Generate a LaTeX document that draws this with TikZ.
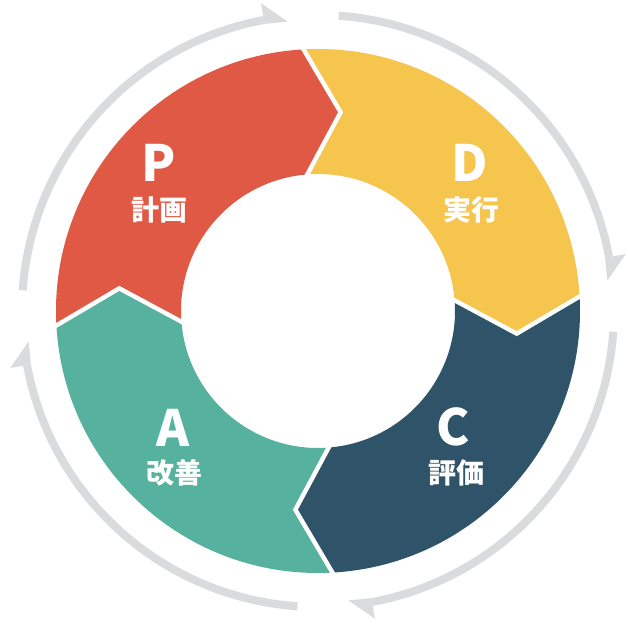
\documentclass[tikz,border=0pt]{standalone}
\usepackage{fontspec}
\setmainfont{Noto Sans CJK JP}
\definecolor{planred}{RGB}{224,89,69}
\definecolor{doyellow}{RGB}{245,197,78}
\definecolor{checkblue}{RGB}{47,83,104}
\definecolor{actgreen}{RGB}{86,177,158}
\definecolor{arrowgray}{RGB}{218,219,221}

\begin{document}
\begin{tikzpicture}[x=0.5pt, y=0.5pt,
	letter/.style={text=white, font=\fontsize{25}{25}\selectfont\bfseries},
	word/.style={text=white, font=\fontsize{14}{14}\selectfont\bfseries},
	gap/.style={draw=white, line width=2.2pt, line join=miter},
	turn/.style={draw=arrowgray, line width=4pt}]

	\useasboundingbox (-318,-314) rectangle (310,311);

	%outer gray arrows, going clockwise
	\foreach \s in {176,86,-4,-94}{
		\pgfmathsetmacro{\e}{\s-80}
		\pgfmathsetmacro{\b}{\s-75.5}
		\draw[turn] (\s:296) arc[start angle=\s, end angle=\b, radius=296];
		\fill[arrowgray] (\b:292) -- (\b:313) -- (\e:291) -- cycle;
	}

	%ring segments
	\foreach \a/\col in {183.5/planred, 93.5/doyellow, 3.5/checkblue, -86.5/actgreen}{
		\fill[\col] (\a:262) arc[start angle=\a, end angle=\a-90, radius=262]
			-- (\a-100:200) -- (\a-88.2:137)
			arc[start angle=\a-88.2, end angle=\a+1.8, radius=137]
			-- (\a-10:200) -- cycle;
	}

	%white gaps between segments
	\foreach \a in {93.5,3.5,-86.5,-176.5}{
		\draw[gap] (\a:265) -- (\a-10:200) -- (\a+1.8:134);
	}

	%labels
	\node[letter] (p) at (-159,148) {P};
	\node[word] (plan) at (-158,101) {計画};
	\node[letter] (d) at (152,148) {D};
	\node[word] (do) at (154,101) {実行};
	\node[letter] (c) at (135,-116) {C};
	\node[word] (check) at (139,-162) {評価};
	\node[letter] (a) at (-145,-117) {A};
	\node[word] (act) at (-143,-162) {改善};

\end{tikzpicture}
\end{document}
